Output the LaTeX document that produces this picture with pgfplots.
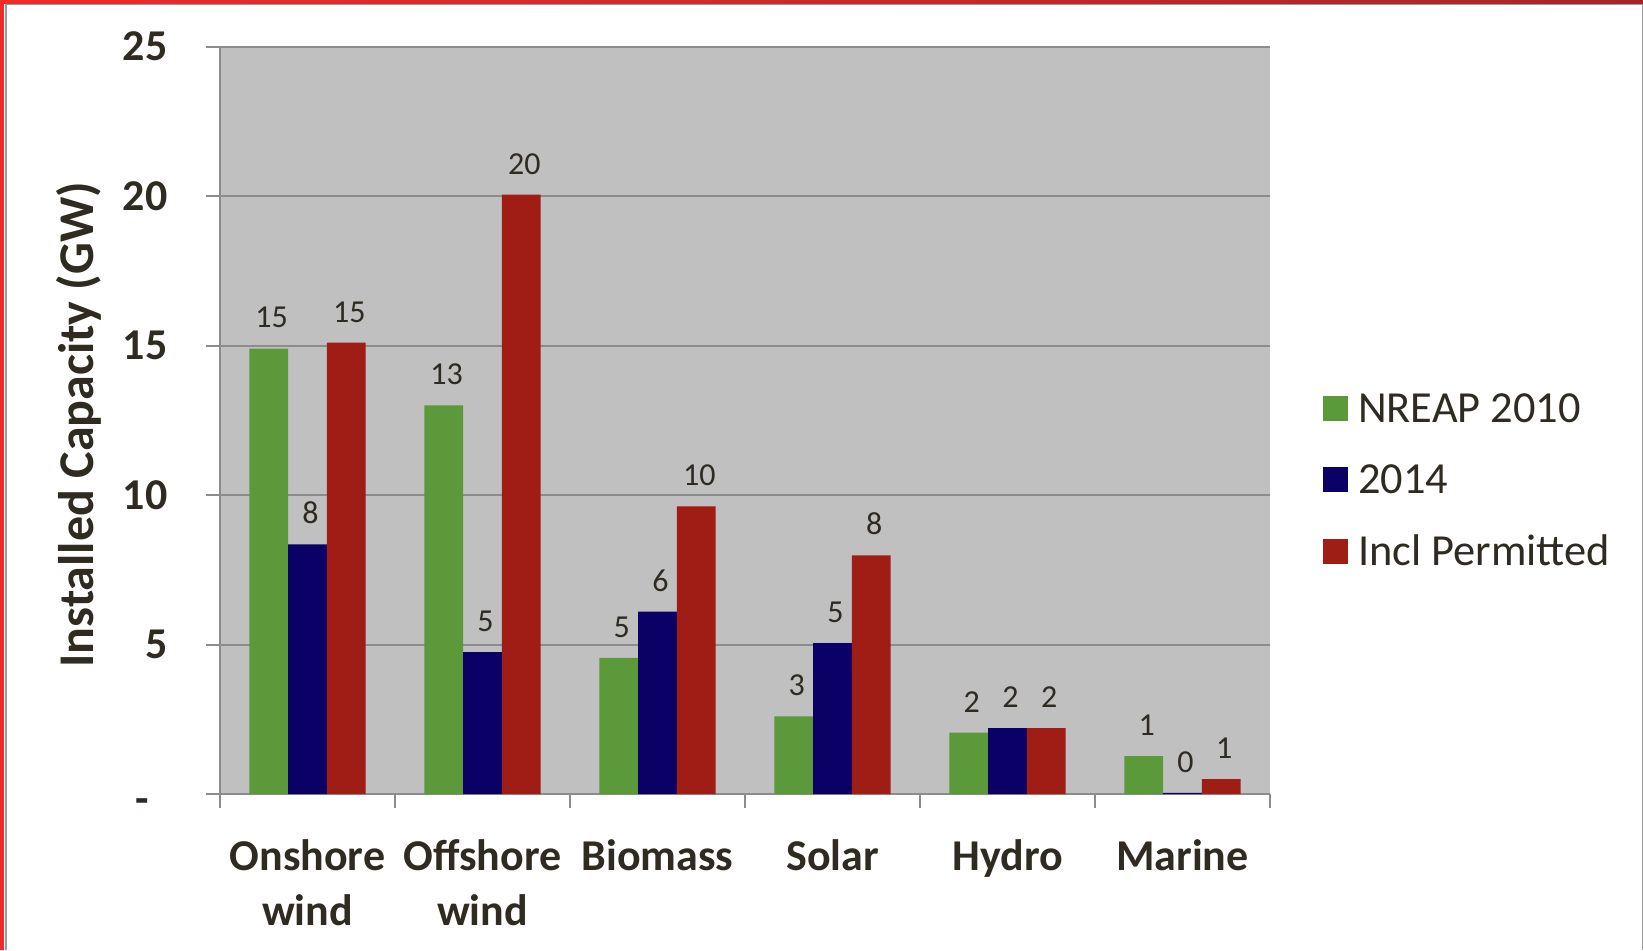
\documentclass[border=0pt]{standalone}
\usepackage{fontspec}
\setmainfont{Carlito}
\usepackage{pgfplots}
\pgfplotsset{compat=1.18}

\definecolor{nreap}{HTML}{5B993A}
\definecolor{yrnow}{HTML}{0B0066}
\definecolor{permit}{HTML}{9F1D14}
\definecolor{plotbg}{HTML}{C0C0C0}
\definecolor{gridgray}{HTML}{8C8C8C}
\definecolor{txt}{HTML}{2F2B23}
\definecolor{framegray}{HTML}{9C9C9C}
\definecolor{redL}{HTML}{EE2B2B}
\definecolor{redR}{HTML}{A8242A}

% Installed capacity (GW) by technology
\pgfplotstableread{
x  nreap  now   permit
0  14.9   8.35  15.1
1  13.0   4.75  20.05
2  4.55   6.1   9.62
3  2.6    5.05  7.98
4  2.05   2.2   2.2
5  1.27   0.04  0.5
}\capacity

\begin{document}
\begin{tikzpicture}[x=1pt,y=1pt]
\useasboundingbox (0,0) rectangle (821.5,475);
\begin{axis}[
  at={(110pt,78pt)}, anchor=south west,
  scale only axis, width=525pt, height=373.65pt,
  xmin=-0.5, xmax=5.5, ymin=0, ymax=25,
  axis background/.style={fill=plotbg},
  axis x line*=bottom, axis y line*=left,
  axis line style={draw=gridgray, line width=1pt, -},
  ybar=0pt, bar width=19.4pt,
  xtick={0,...,5},
  xticklabels={{Onshore\\wind},{Offshore\\wind},Biomass,Solar,Hydro,Marine},
  major x tick style={draw=none},
  minor xtick={-0.5,0.5,...,5.5},
  tick align=outside,
  major tick length=7pt, minor tick length=7pt,
  tick style={draw=gridgray, line width=1pt},
  ytick={0,5,...,25},
  yticklabels={\makebox[16pt][l]{\raisebox{-2.5pt}{-}},5,10,15,20,25},
  ymajorgrids, grid style={draw=gridgray, line width=1pt},
  xticklabel style={font=\fontsize{22}{27.3}\selectfont\bfseries, text=txt,
    align=center, anchor=north, inner sep=0pt, yshift=-15.7pt},
  yticklabel style={font=\fontsize{22}{25}\selectfont\bfseries, text=txt,
    anchor=east, inner sep=0pt, text height=14.2pt, text depth=0pt, xshift=-19pt},
  ylabel={Installed Capacity (GW)},
  every axis y label/.style={at={(axis description cs:-0.134,0.494)},
    rotate=90, anchor=center, font=\fontsize{25}{29}\selectfont\bfseries, text=txt},
  nodes near coords={\pgfmathprintnumber[fixed,precision=0,assume math mode=true]{\pgfplotspointmeta}},
  every node near coord/.append style={font=\fontsize{16}{19}\selectfont,
    text=txt, anchor=south, inner sep=0pt, yshift=10pt, xshift=1.5pt},
  legend style={at={(axis description cs:1.0445,0.5435)}, anchor=north west,
    draw=none, fill=none, font=\fontsize{22.2}{26}\selectfont, text=txt,
    row sep=15.85pt, column sep=5pt,
    nodes={inner sep=0pt, text height=15pt, text depth=5pt}},
  legend cell align=left,
  legend image code/.code={\fill[#1] (0pt,-4.2pt) rectangle (12.5pt,8.3pt);},
]
\addplot[fill=nreap, draw=none] table[x=x, y=nreap] {\capacity};
\addplot[fill=yrnow, draw=none] table[x=x, y=now] {\capacity};
\addplot[fill=permit, draw=none] table[x=x, y=permit] {\capacity};
\legend{NREAP 2010, 2014, Incl Permitted}
\end{axis}
% slide frame
\shade[left color=redL, right color=redR] (0,473.4) rectangle (821.5,475);
\fill[redL] (0,0) rectangle (2,475);
\fill[framegray] (2.6,472.4) rectangle (821.5,473);
\fill[framegray] (2.6,0) rectangle (3.3,473);
\fill[framegray] (820.8,0) rectangle (821.5,473);
\end{tikzpicture}
\end{document}
